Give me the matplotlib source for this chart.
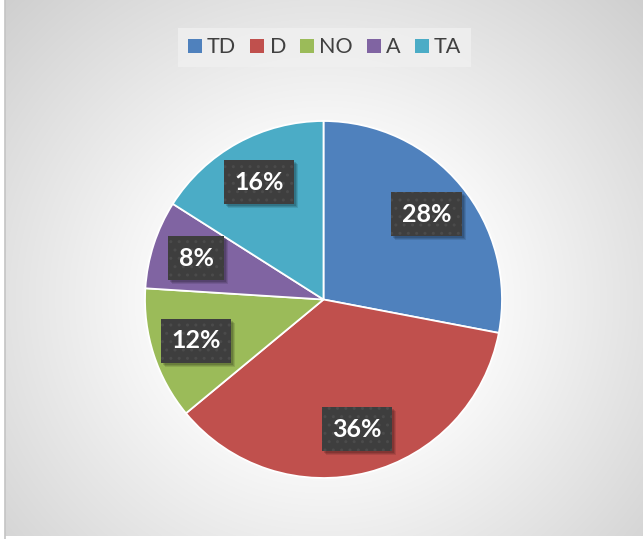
import numpy as np
import matplotlib
matplotlib.use('Agg')
import matplotlib.pyplot as plt
from matplotlib.patches import Rectangle, Patch
from matplotlib.transforms import IdentityTransform

labels = ['TD', 'D', 'NO', 'A', 'TA']
values = [28, 36, 12, 8, 16]
colors = ['#4F81BD', '#C0504D', '#9BBB59', '#8064A2', '#4BACC6']

W, H = 643, 539
fig = plt.figure(figsize=(W / 100, H / 100), dpi=100, facecolor='white')

# chart area with radial gradient (cropped at top and right)
x0, y0 = 4.5, 536.5  # left and bottom border in pixels (from top)
bg = fig.add_axes([x0 / W, (H - y0) / H, 1 - x0 / W, y0 / H])
bg.set_axis_off()
yy, xx = np.mgrid[0:int(y0), 0:int(W - x0)]
cx, cy = 323 - x0, 300
d = np.sqrt((xx - cx) ** 2 + ((yy - cy) * 1.05) ** 2)
t = np.clip((d - 130) / 320, 0, 1)
g = 1.0 - 0.19 * t
bg.imshow(np.dstack([g, g, g]), aspect='auto', interpolation='bilinear',
          extent=(0, 1, 0, 1))
bg.set_xlim(0, 1)
bg.set_ylim(0, 1)
fig.patches.append(Rectangle((x0 / W, -0.1), 1.2, 1.1 + (H - y0) / H,
                             transform=fig.transFigure, fill=False,
                             edgecolor='#c4c4c4', linewidth=1.2))

# pie
r = 178.5
pcx, pcy = 323.5, 299.5
ax = fig.add_axes([(pcx - r) / W, (H - pcy - r) / H, 2 * r / W, 2 * r / H])
wedges, texts, autotexts = ax.pie(values, colors=colors, startangle=90,
                                  counterclock=False, autopct='%1.0f%%',
                                  pctdistance=0.75,
                                  wedgeprops=dict(edgecolor='white', linewidth=1.3))
ax.set_xlim(-1, 1)
ax.set_ylim(-1, 1)
ax.set_aspect('equal')

plt.rcParams['hatch.linewidth'] = 1.0
for at in autotexts:
    at.set_fontsize(18)
    at.set_fontweight('bold')
    at.set_family('Lato')
    at.set_color('white')
    at.set_zorder(5)
    at.set_bbox(dict(boxstyle='square,pad=0.42', facecolor='#3e3e3e',
                     edgecolor='#4b4b4b', linewidth=0, hatch='..'))

# legend
handles = [Patch(facecolor=c, edgecolor='none', label=l) for c, l in zip(colors, labels)]
leg = fig.legend(handles=handles, loc='upper center', ncol=5,
                 bbox_to_anchor=(324.5 / W, 1 - 17 / H),
                 prop={'family': 'Lato', 'size': 15.5}, labelcolor='#404040',
                 handlelength=0.65, handleheight=0.65, handletextpad=0.25,
                 columnspacing=0.65, borderpad=0.45, fancybox=False, frameon=True)
leg.get_frame().set_facecolor('#f0f0f0')
leg.get_frame().set_edgecolor('none')
leg.get_frame().set_alpha(0.8)

# soft shadows under the label boxes
fig.canvas.draw()
for at in autotexts:
    bb = at.get_bbox_patch().get_window_extent()
    for k, a in [(4, 0.10), (3, 0.12), (2, 0.14)]:
        ax.add_patch(Rectangle((bb.x0 + k, bb.y0 - k), bb.width, bb.height,
                               transform=IdentityTransform(), facecolor='black',
                               edgecolor='none', alpha=a, zorder=4, clip_on=False))

fig.savefig('out.png', dpi=100)
